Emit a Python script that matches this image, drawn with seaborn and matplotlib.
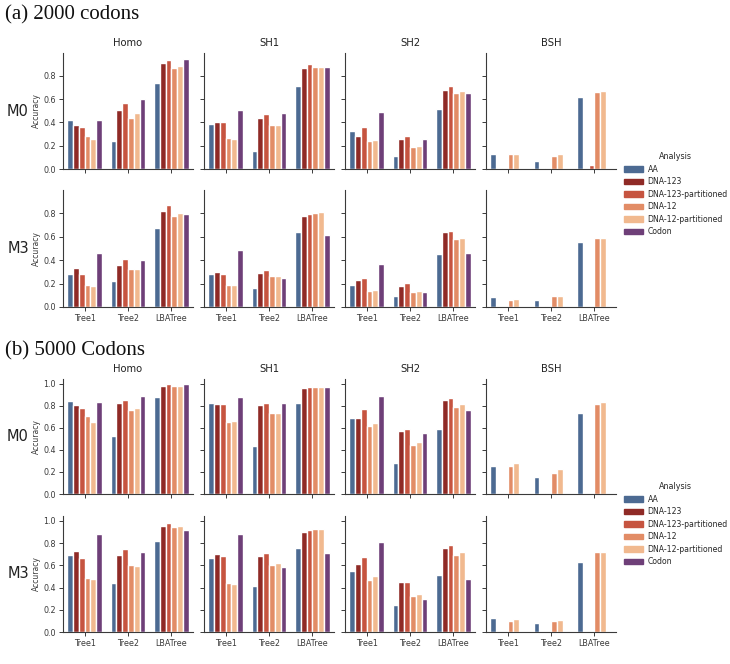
import numpy as np
import pandas as pd
import matplotlib.pyplot as plt
import seaborn as sns
from matplotlib.patches import Patch

ANALYSES = ['AA', 'DNA-123', 'DNA-123-partitioned', 'DNA-12', 'DNA-12-partitioned', 'Codon']
TREES = ['Tree1', 'Tree2', 'LBATree']
HETERO = ['Homo', 'SH1', 'SH2', 'BSH']
MODELS = ['M0', 'M3']
COLORS = ['#4c6a92', '#8f2a26', '#c65440', '#e28c66', '#f1b98f', '#6e3f78']

# each panel: one row per tree (Tree1, Tree2, LBATree), columns follow ANALYSES
# (a) 2000 codons
A_M0_HOMO = [[0.42, 0.38, 0.36, 0.28, 0.26, 0.425],
             [0.24, 0.51, 0.565, 0.44, 0.48, 0.60],
             [0.74, 0.91, 0.94, 0.87, 0.89, 0.95]]
A_M0_SH1 = [[0.39, 0.405, 0.40, 0.265, 0.26, 0.505],
            [0.155, 0.435, 0.47, 0.38, 0.38, 0.485],
            [0.715, 0.865, 0.905, 0.88, 0.88, 0.88]]
A_M0_SH2 = [[0.33, 0.28, 0.36, 0.24, 0.25, 0.49],
            [0.115, 0.26, 0.285, 0.19, 0.20, 0.26],
            [0.52, 0.68, 0.715, 0.655, 0.675, 0.65]]
A_M0_BSH = [[0.13, 0.0, 0.005, 0.125, 0.125, 0.0],
            [0.07, 0.0, 0.008, 0.11, 0.125, 0.0],
            [0.62, 0.0, 0.035, 0.665, 0.675, 0.0]]
A_M3_HOMO = [[0.28, 0.335, 0.285, 0.19, 0.183, 0.46],
             [0.223, 0.355, 0.41, 0.323, 0.323, 0.397],
             [0.67, 0.815, 0.87, 0.78, 0.803, 0.79]]
A_M3_SH1 = [[0.28, 0.30, 0.283, 0.186, 0.186, 0.486],
            [0.166, 0.289, 0.314, 0.266, 0.266, 0.249],
            [0.64, 0.777, 0.797, 0.803, 0.806, 0.614]]
A_M3_SH2 = [[0.19, 0.23, 0.25, 0.14, 0.146, 0.363],
            [0.09, 0.177, 0.203, 0.126, 0.137, 0.126],
            [0.45, 0.637, 0.649, 0.577, 0.589, 0.463]]
A_M3_BSH = [[0.083, 0.0, 0.0, 0.06, 0.071, 0.0],
            [0.063, 0.0, 0.005, 0.094, 0.094, 0.0],
            [0.551, 0.0, 0.011, 0.589, 0.586, 0.0]]

# (b) 5000 codons
B_M0_HOMO = [[0.84, 0.807, 0.78, 0.707, 0.65, 0.834],
             [0.529, 0.822, 0.852, 0.761, 0.779, 0.888],
             [0.882, 0.979, 0.994, 0.976, 0.976, 0.994]]
B_M0_SH1 = [[0.825, 0.816, 0.816, 0.653, 0.662, 0.879],
            [0.435, 0.807, 0.825, 0.731, 0.734, 0.825],
            [0.825, 0.958, 0.973, 0.973, 0.973, 0.967]]
B_M0_SH2 = [[0.689, 0.689, 0.773, 0.613, 0.643, 0.885],
            [0.278, 0.574, 0.592, 0.447, 0.471, 0.55],
            [0.592, 0.855, 0.873, 0.79, 0.819, 0.758]]
B_M0_BSH = [[0.257, 0.0, 0.0, 0.254, 0.281, 0.0],
            [0.157, 0.0, 0.006, 0.19, 0.23, 0.0],
            [0.737, 0.0, 0.003, 0.816, 0.831, 0.0]]
B_M3_HOMO = [[0.696, 0.732, 0.666, 0.482, 0.473, 0.88],
             [0.443, 0.696, 0.747, 0.599, 0.593, 0.723],
             [0.822, 0.955, 0.985, 0.946, 0.955, 0.919]]
B_M3_SH1 = [[0.669, 0.699, 0.684, 0.44, 0.428, 0.88],
            [0.413, 0.681, 0.711, 0.605, 0.62, 0.581],
            [0.753, 0.898, 0.916, 0.931, 0.931, 0.708]]
B_M3_SH2 = [[0.548, 0.614, 0.675, 0.47, 0.50, 0.807],
            [0.247, 0.446, 0.452, 0.322, 0.346, 0.301],
            [0.509, 0.756, 0.783, 0.693, 0.723, 0.479]]
B_M3_BSH = [[0.13, 0.0, 0.0, 0.099, 0.117, 0.0],
            [0.081, 0.0, 0.0, 0.102, 0.111, 0.0],
            [0.627, 0.0, 0.0, 0.717, 0.717, 0.0]]

PANELS_A = {('M0', 'Homo'): A_M0_HOMO, ('M0', 'SH1'): A_M0_SH1,
            ('M0', 'SH2'): A_M0_SH2, ('M0', 'BSH'): A_M0_BSH,
            ('M3', 'Homo'): A_M3_HOMO, ('M3', 'SH1'): A_M3_SH1,
            ('M3', 'SH2'): A_M3_SH2, ('M3', 'BSH'): A_M3_BSH}
PANELS_B = {('M0', 'Homo'): B_M0_HOMO, ('M0', 'SH1'): B_M0_SH1,
            ('M0', 'SH2'): B_M0_SH2, ('M0', 'BSH'): B_M0_BSH,
            ('M3', 'Homo'): B_M3_HOMO, ('M3', 'SH1'): B_M3_SH1,
            ('M3', 'SH2'): B_M3_SH2, ('M3', 'BSH'): B_M3_BSH}

W, H = 730, 664
sns.set_style('ticks')
plt.rcParams['font.family'] = ['DejaVu Sans']
fig = plt.figure(figsize=(W / 100, H / 100), dpi=100)

COL_LEFT = [63, 204, 345, 486]
AX_W = 130
GREY = '#3a3a3a'


def to_frame(vals):
    rows = []
    for t, tree in enumerate(TREES):
        for a, name in enumerate(ANALYSES):
            rows.append({'Tree': tree, 'Analysis': name, 'Accuracy': vals[t][a]})
    return pd.DataFrame(rows)


def px_rect(left, top, bottom):
    return [left / W, 1 - bottom / H, AX_W / W, (bottom - top) / H]


def draw_block(panels, rows_px, title, title_y, legend_y):
    ymax = max(max(max(r) for r in v) for v in panels.values()) * 1.05
    for r, model in enumerate(MODELS):
        top, bottom = rows_px[r]
        for c, het in enumerate(HETERO):
            ax = fig.add_axes(px_rect(COL_LEFT[c], top, bottom))
            sns.barplot(data=to_frame(panels[(model, het)]), x='Tree', y='Accuracy',
                        hue='Analysis', order=TREES, hue_order=ANALYSES,
                        palette=COLORS, saturation=1, legend=False, ax=ax)
            ax.set_ylim(0, ymax)
            sns.despine(ax=ax)
            for s in ['left', 'bottom']:
                ax.spines[s].set_color(GREY)
                ax.spines[s].set_linewidth(0.8)
            ax.tick_params(labelsize=5.8, colors=GREY, length=3, width=0.7, pad=2)
            ax.set_xlabel('')
            if c == 0:
                ax.set_ylabel('Accuracy', fontsize=5.5, color=GREY, labelpad=2)
            else:
                ax.set_ylabel('')
                ax.tick_params(labelleft=False)
            if r == 0:
                ax.tick_params(labelbottom=False)
                ax.set_title(het, fontsize=7.2, color='#222222', pad=5)
        fig.text(18 / W, 1 - (top + bottom) / 2 / H, model, fontsize=10.5,
                 ha='center', va='center', color='#222222')
    fig.text(5 / W, 1 - title_y / H, title, fontsize=15, ha='left', va='center',
             family='Liberation Serif', color='#111111')
    handles = [Patch(color=col) for col in COLORS]
    fig.legend(handles, ANALYSES, title='Analysis', loc='upper left',
               bbox_to_anchor=(621 / W, 1 - legend_y / H), frameon=False,
               fontsize=5.6, title_fontsize=5.8, handlelength=2.4,
               handleheight=0.7, labelspacing=0.45, handletextpad=0.6,
               borderaxespad=0)


draw_block(PANELS_A, [(53, 169), (190, 307)], '(a) 2000 codons', 15, 149)
draw_block(PANELS_B, [(379, 494), (516, 632)], '(b) 5000 Codons', 351, 479)

fig.savefig('out.png', dpi=100)
